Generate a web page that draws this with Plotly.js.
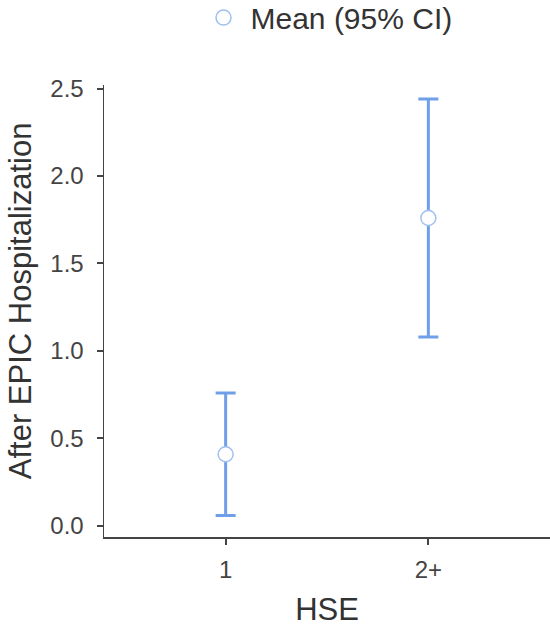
<!DOCTYPE html>
<html>
<head>
<meta charset="utf-8">
<script src="https://cdn.plot.ly/plotly-3.0.1.min.js"></script>
<style>
  html, body { margin: 0; padding: 0; background: #fff; }
  #chart { width: 550px; height: 629px; }
</style>
</head>
<body>
<div id="chart"></div>
<script>
// HSE groups and mean with 95% CI
const groups = ['1', '2+'];
const means = [0.41, 1.76];
const upperCI = [0.76, 2.44];
const lowerCI = [0.06, 1.08];

const lineBlue = '#6f9fe8';
const axisGrey = '#444';

const trace = {
    type: 'scatter',
    mode: 'markers',
    name: 'Mean (95% CI)',
    x: groups,
    y: means,
    error_y: {
        type: 'data',
        symmetric: false,
        array: upperCI.map((u, i) => u - means[i]),
        arrayminus: lowerCI.map((l, i) => means[i] - l),
        color: lineBlue,
        thickness: 3,
        width: 10
    },
    marker: {
        symbol: 'circle',
        size: 15,
        color: '#ffffff',
        line: { color: '#9fc0f0', width: 1.5 }
    },
    hoverinfo: 'x+y'
};

const layout = {
    width: 550,
    height: 629,
    margin: { t: 85, r: 0, b: 92, l: 104 },
    paper_bgcolor: '#fff',
    plot_bgcolor: '#fff',
    font: { family: "'Liberation Sans', Arial, sans-serif", color: '#333', size: 24 },
    showlegend: true,
    legend: {
        orientation: 'h',
        x: 0.5,
        xanchor: 'center',
        xref: 'paper',
        yref: 'container',
        y: 0.972,
        yanchor: 'middle',
        itemwidth: 44,
        font: { size: 30, color: '#333' }
    },
    xaxis: {
        type: 'category',
        range: [-0.6, 1.6],
        showline: true,
        linecolor: axisGrey,
        linewidth: 1.5,
        ticks: 'outside',
        ticklen: 6,
        tickwidth: 2,
        tickcolor: axisGrey,
        ticklabelstandoff: 5,
        showgrid: false,
        zeroline: false,
        tickfont: { size: 24, color: '#444' },
        title: { text: 'HSE', font: { size: 31, color: '#333' }, standoff: 16 }
    },
    yaxis: {
        range: [-0.063, 2.52],
        tickvals: [0, 0.5, 1, 1.5, 2, 2.5],
        ticktext: ['0.0', '0.5', '1.0', '1.5', '2.0', '2.5'],
        showline: true,
        linecolor: axisGrey,
        linewidth: 1.5,
        ticks: 'outside',
        ticklen: 6,
        tickwidth: 2,
        tickcolor: axisGrey,
        ticklabelstandoff: 8,
        showgrid: false,
        zeroline: false,
        tickfont: { size: 24, color: '#444' }
    },
    annotations: [{
        text: 'After EPIC Hospitalization',
        textangle: -90,
        xref: 'paper',
        yref: 'paper',
        x: -0.188,
        y: 0.522,
        xanchor: 'center',
        yanchor: 'middle',
        showarrow: false,
        font: { size: 31, color: '#333' }
    }]
};

Plotly.newPlot('chart', [trace], layout, { displayModeBar: false, staticPlot: true });
</script>
</body>
</html>
